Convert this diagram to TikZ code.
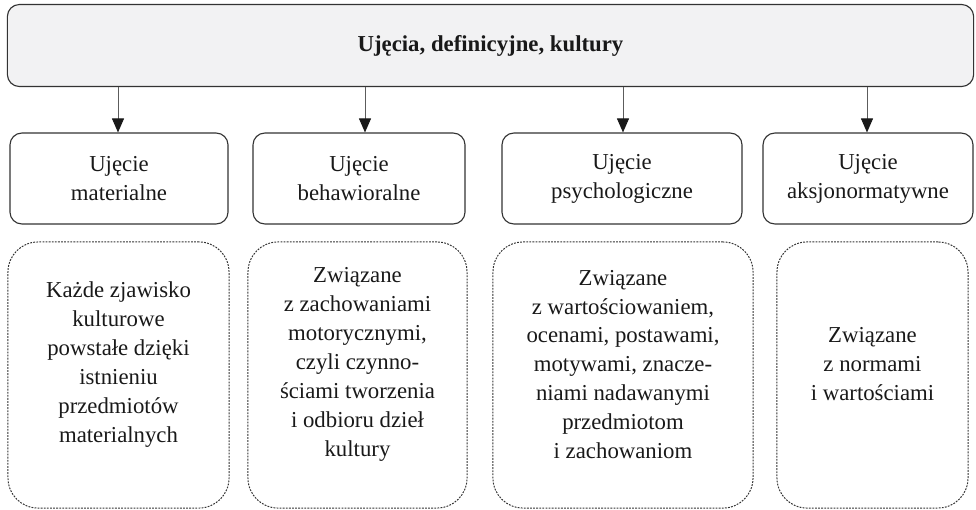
\documentclass[tikz,border=0pt]{standalone}
\usepackage{fontspec}
\setmainfont{Liberation Serif}
\usetikzlibrary{arrows.meta}
\definecolor{framegray}{HTML}{333333}
\definecolor{headfill}{HTML}{F2F2F3}
\begin{document}
\begin{tikzpicture}[x=0.025cm, y=-0.025cm,
    every node/.style={font=\fontsize{16.2}{20.6}\selectfont, text=black!90, align=center},
    headbox/.style={draw=framegray, line width=0.8pt, fill=headfill, rounded corners=0.3cm,
      minimum width=24.15cm, minimum height=2.05cm, font=\fontsize{16.2}{20.6}\selectfont\bfseries},
    kindbox/.style={draw=framegray, line width=0.8pt, rounded corners=0.3cm, minimum height=2.275cm},
    descbox/.style={draw=framegray, line width=0.7pt, dash pattern=on 1.3pt off 0.9pt,
      rounded corners=0.75cm, minimum height=6.65cm},
    link/.style={draw=framegray!80, line width=0.7pt,
      -{Triangle[width=0.3cm, length=0.35cm, color=black!90, fill=black!90]}}]
  \useasboundingbox (0,0) rectangle (976,509);
  % header
  \node[headbox] (root) at (490.5,45.5) {Ujęcia, definicyjne, kultury};
  % kinds of approach
  \node[kindbox, minimum width=5.45cm] (m1) at (119,178.5) {Ujęcie\\materialne};
  \node[kindbox, minimum width=5.3cm] (m2) at (359,178.5) {Ujęcie\\behawioralne};
  \node[kindbox, minimum width=6.0cm] (m3) at (622,178.5) {Ujęcie\\psychologiczne};
  \node[kindbox, minimum width=5.25cm] (m4) at (868,178.5) {Ujęcie\\aksjonormatywne};
  % descriptions
  \node[descbox, minimum width=5.525cm] (d1) at (118.5,375) {};
  \node[descbox, minimum width=5.475cm] (d2) at (357.5,375) {};
  \node[descbox, minimum width=6.5cm] (d3) at (623,375) {};
  \node[descbox, minimum width=4.775cm] (d4) at (872.5,375) {};
  \node (t1) at (118.5,364.5) {Każde zjawisko\\kulturowe\\powstałe dzięki\\istnieniu\\przedmiotów\\materialnych};
  \node (t2) at (357.5,364.5) {Związane\\z zachowaniami\\motorycznymi,\\czyli czynno-\\ściami tworzenia\\i odbioru dzieł\\kultury};
  \node (t3) at (623,364.5) {Związane\\z wartościowaniem,\\ocenami, postawami,\\motywami, znacze-\\niami nadawanymi\\przedmiotom\\i zachowaniom};
  \node (t4) at (872.5,364.5) {Związane\\z normami\\i wartościami};
  % arrows
  \draw[link] (root.south -| 118,0) -- (m1.north -| 118,0);
  \draw[link] (root.south -| 365,0) -- (m2.north -| 365,0);
  \draw[link] (root.south -| 623,0) -- (m3.north -| 623,0);
  \draw[link] (root.south -| 867,0) -- (m4.north -| 867,0);
\end{tikzpicture}
\end{document}
